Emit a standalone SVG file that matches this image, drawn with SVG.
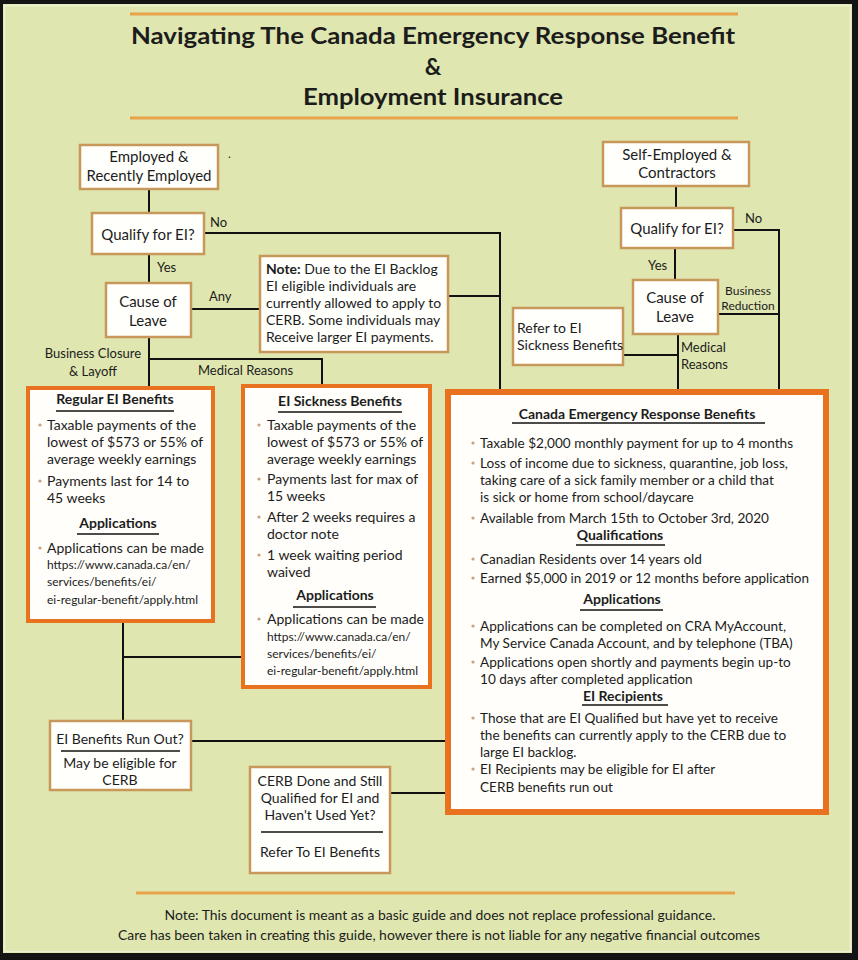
<svg xmlns="http://www.w3.org/2000/svg" width="858" height="960" viewBox="0 0 858 960">
<style>
.t{font-family:Lato,"Liberation Sans",sans-serif;fill:#1c1c1c;font-size:14px}
.b{font-weight:bold}
.c{text-anchor:middle}
.n{font-size:15px}
.s{font-size:12px}
.l{font-size:13px}
.h{font-size:23px}
.m{font-size:13.6px}
.box{fill:#fffffc;stroke:#c8985a;stroke-width:2.5}
.obox{fill:#fffefa;stroke:#e8721f;stroke-width:4}
.ln{stroke:#111;stroke-width:2;fill:none}
.ul{stroke:#111;stroke-width:1.5}
.dot{fill:#c9a080}
.orl{stroke:#e8a24a;stroke-width:3}
</style>
<rect x="0" y="0" width="858" height="960" fill="#141414"/>
<rect x="3" y="4" width="849" height="949" fill="#dfe6b0"/>
<rect x="4.5" y="5.5" width="846" height="946" fill="none" stroke="#eef2d2" stroke-width="1.5"/>

<g id="title">
<line class="orl" x1="130" y1="14" x2="738" y2="14"/>
<text class="t b c h" x="433" y="44" textLength="604" lengthAdjust="spacingAndGlyphs">Navigating The Canada Emergency Response Benefit</text>
<text class="t b c h" x="433" y="75">&amp;</text>
<text class="t b c h" x="433" y="105" textLength="260" lengthAdjust="spacingAndGlyphs">Employment Insurance</text>
<line class="orl" x1="130" y1="118" x2="738" y2="118"/>
</g>

<g id="connectors">
<polyline class="ln" points="149,190 149,213"/>
<polyline class="ln" points="204,233 500,233 500,389"/>
<polyline class="ln" points="448,296 500,296"/>
<polyline class="ln" points="149,254 149,283"/>
<polyline class="ln" points="191,309 260,309"/>
<polyline class="ln" points="149,337 149,387"/>
<polyline class="ln" points="149,359 322,359 322,385"/>
<polyline class="ln" points="123,621 123,721"/>
<polyline class="ln" points="123,657 242,657"/>
<polyline class="ln" points="191,741 446,741"/>
<polyline class="ln" points="390,793 446,793"/>
<polyline class="ln" points="676,186 676,208"/>
<polyline class="ln" points="733,230 779,230 779,389"/>
<polyline class="ln" points="675,248 675,280"/>
<polyline class="ln" points="718,314 779,314"/>
<polyline class="ln" points="678,334 678,389"/>
<polyline class="ln" points="623,355 678,355"/>
<text class="t l" x="210" y="227">No</text>
<text class="t l" x="157" y="272">Yes</text>
<text class="t l" x="209" y="301">Any</text>
<text class="t l c" x="93" y="358">Business Closure</text>
<text class="t l c" x="93" y="376">&amp; Layoff</text>
<text class="t l" x="198" y="375">Medical Reasons</text>
<text class="t l" x="745" y="223">No</text>
<text class="t l" x="648" y="270">Yes</text>
<text class="t s c" x="748" y="295">Business</text>
<text class="t s c" x="748" y="310">Reduction</text>
<text class="t l" x="681" y="352">Medical</text>
<text class="t l" x="681" y="369">Reasons</text>
</g>

<g id="employed">
<rect class="box" x="80" y="145" width="138" height="44"/>
<text class="t n c" x="149" y="162">Employed &amp;</text>
<text class="t n c" x="149" y="181">Recently Employed</text>
<text class="t s" x="228" y="158">.</text>
</g>

<g id="qualify-left">
<rect class="box" x="92" y="213" width="112" height="41"/>
<text class="t n c" x="148" y="240">Qualify for EI?</text>
</g>

<g id="cause-left">
<rect class="box" x="106" y="283" width="85" height="54"/>
<text class="t n c" x="148" y="307">Cause of</text>
<text class="t n c" x="148" y="326">Leave</text>
</g>

<g id="note">
<rect class="box" x="260" y="256" width="188" height="96" stroke="#e08a3a" stroke-width="3"/>
<text class="t" x="266" y="274"><tspan class="b">Note:</tspan> Due to the EI Backlog</text>
<text class="t" x="266" y="291">EI eligible individuals are</text>
<text class="t" x="266" y="308">currently allowed to apply to</text>
<text class="t" x="266" y="325">CERB. Some individuals may</text>
<text class="t" x="266" y="342">Receive larger EI payments.</text>
</g>

<g id="regular-ei">
<rect class="obox" x="28" y="388" width="185" height="233"/>
<text class="t b c" x="115" y="404">Regular EI Benefits</text>
<line class="ul" x1="56" y1="411" x2="174" y2="411"/>
<circle class="dot" cx="40" cy="425" r="1.6"/>
<text class="t" x="47" y="430">Taxable payments of the</text>
<text class="t" x="47" y="447">lowest of $573 or 55% of</text>
<text class="t" x="47" y="464">average weekly earnings</text>
<circle class="dot" cx="40" cy="481" r="1.6"/>
<text class="t" x="47" y="486">Payments last for 14 to</text>
<text class="t" x="47" y="503">45 weeks</text>
<text class="t b c" x="118" y="528">Applications</text>
<line class="ul" x1="77" y1="534" x2="159" y2="534"/>
<circle class="dot" cx="40" cy="548" r="1.6"/>
<text class="t" x="47" y="553">Applications can be made</text>
<text class="t s" x="47" y="569">https://www.canada.ca/en/</text>
<text class="t s" x="47" y="586">services/benefits/ei/</text>
<text class="t s" x="47" y="604">ei-regular-benefit/apply.html</text>
</g>

<g id="sickness-ei">
<rect class="obox" x="243" y="386" width="187" height="301"/>
<text class="t b c" x="340" y="406">EI Sickness Benefits</text>
<line class="ul" x1="278" y1="412" x2="402" y2="412"/>
<circle class="dot" cx="259" cy="425" r="1.6"/>
<text class="t" x="267" y="430">Taxable payments of the</text>
<text class="t" x="267" y="447">lowest of $573 or 55% of</text>
<text class="t" x="267" y="464">average weekly earnings</text>
<circle class="dot" cx="259" cy="479" r="1.6"/>
<text class="t" x="267" y="484">Payments last for max of</text>
<text class="t" x="267" y="501">15 weeks</text>
<circle class="dot" cx="259" cy="517" r="1.6"/>
<text class="t" x="267" y="522">After 2 weeks requires a</text>
<text class="t" x="267" y="539">doctor note</text>
<circle class="dot" cx="259" cy="555" r="1.6"/>
<text class="t" x="267" y="560">1 week waiting period</text>
<text class="t" x="267" y="577">waived</text>
<text class="t b c" x="335" y="600">Applications</text>
<line class="ul" x1="293" y1="607" x2="376" y2="607"/>
<circle class="dot" cx="259" cy="619" r="1.6"/>
<text class="t" x="267" y="624">Applications can be made</text>
<text class="t s" x="267" y="641">https://www.canada.ca/en/</text>
<text class="t s" x="267" y="658">services/benefits/ei/</text>
<text class="t s" x="267" y="675">ei-regular-benefit/apply.html</text>
</g>

<g id="self-employed">
<rect class="box" x="603" y="142" width="146" height="44"/>
<text class="t n c" x="677" y="160">Self-Employed &amp;</text>
<text class="t n c" x="677" y="178">Contractors</text>
</g>

<g id="qualify-right">
<rect class="box" x="621" y="208" width="112" height="40"/>
<text class="t n c" x="677" y="234">Qualify for EI?</text>
</g>

<g id="cause-right">
<rect class="box" x="633" y="280" width="85" height="54"/>
<text class="t n c" x="675" y="303">Cause of</text>
<text class="t n c" x="675" y="322">Leave</text>
</g>

<g id="refer-sickness">
<rect class="box" x="513" y="308" width="110" height="57"/>
<text class="t" x="517" y="333">Refer to EI</text>
<text class="t" x="517" y="350">Sickness Benefits</text>
</g>

<g id="cerb">
<rect x="448" y="392" width="378" height="420" fill="#fffefa" stroke="#e8721f" stroke-width="6"/>
<text class="t b c" x="637" y="419">Canada Emergency Response Benefits</text>
<line class="ul" x1="512" y1="423" x2="765" y2="423"/>
<circle class="dot" cx="473" cy="443" r="1.6"/>
<text class="t m" x="480" y="448">Taxable $2,000 monthly payment for up to 4 months</text>
<circle class="dot" cx="473" cy="463" r="1.6"/>
<text class="t m" x="480" y="468">Loss of income due to sickness, quarantine, job loss,</text>
<text class="t m" x="480" y="485">taking care of a sick family member or a child that</text>
<text class="t m" x="480" y="502">is sick or home from school/daycare</text>
<circle class="dot" cx="473" cy="518" r="1.6"/>
<text class="t m" x="480" y="523">Available from March 15th to October 3rd, 2020</text>
<text class="t b c" x="620" y="540">Qualifications</text>
<line class="ul" x1="576" y1="545" x2="665" y2="545"/>
<circle class="dot" cx="473" cy="559" r="1.6"/>
<text class="t m" x="480" y="564">Canadian Residents over 14 years old</text>
<circle class="dot" cx="473" cy="578" r="1.6"/>
<text class="t m" x="480" y="583" textLength="329" lengthAdjust="spacingAndGlyphs">Earned $5,000 in 2019 or 12 months before application</text>
<text class="t b c" x="622" y="604">Applications</text>
<line class="ul" x1="580" y1="610" x2="663" y2="610"/>
<circle class="dot" cx="473" cy="626" r="1.6"/>
<text class="t m" x="480" y="631">Applications can be completed on CRA MyAccount,</text>
<text class="t m" x="480" y="648">My Service Canada Account, and by telephone (TBA)</text>
<circle class="dot" cx="473" cy="662" r="1.6"/>
<text class="t m" x="480" y="667">Applications open shortly and payments begin up-to</text>
<text class="t m" x="480" y="684">10 days after completed application</text>
<text class="t b c" x="623" y="701">EI Recipients</text>
<line class="ul" x1="582" y1="705" x2="668" y2="705"/>
<circle class="dot" cx="473" cy="718" r="1.6"/>
<text class="t m" x="480" y="723">Those that are EI Qualified but have yet to receive</text>
<text class="t m" x="480" y="740">the benefits can currently apply to the CERB due to</text>
<text class="t m" x="480" y="757">large EI backlog.</text>
<circle class="dot" cx="473" cy="769" r="1.6"/>
<text class="t m" x="480" y="774">EI Recipients may be eligible for EI after</text>
<text class="t m" x="480" y="792">CERB benefits run out</text>
</g>

<g id="ei-run-out">
<rect class="box" x="50" y="721" width="141" height="69"/>
<text class="t c" x="120" y="744">EI Benefits Run Out?</text>
<line class="ul" x1="61" y1="751" x2="180" y2="751" stroke-width="2"/>
<text class="t c" x="120" y="768">May be eligible for</text>
<text class="t c" x="120" y="785">CERB</text>
</g>

<g id="cerb-done">
<rect class="box" x="250" y="767" width="140" height="106"/>
<text class="t c" x="320" y="786">CERB Done and Still</text>
<text class="t c" x="320" y="803">Qualified for EI and</text>
<text class="t c" x="320" y="820">Haven't Used Yet?</text>
<line class="ul" x1="261" y1="832" x2="383" y2="832" stroke-width="2"/>
<text class="t c" x="320" y="857">Refer To EI Benefits</text>
</g>

<g id="footer">
<line class="orl" x1="136" y1="893" x2="735" y2="893"/>
<text class="t l c" x="440" y="920" textLength="551" lengthAdjust="spacingAndGlyphs">Note: This document is meant as a basic guide and does not replace professional guidance.</text>
<text class="t l c" x="439" y="940" textLength="642" lengthAdjust="spacingAndGlyphs">Care has been taken in creating this guide, however there is not liable for any negative financial outcomes</text>
</g>
</svg>
